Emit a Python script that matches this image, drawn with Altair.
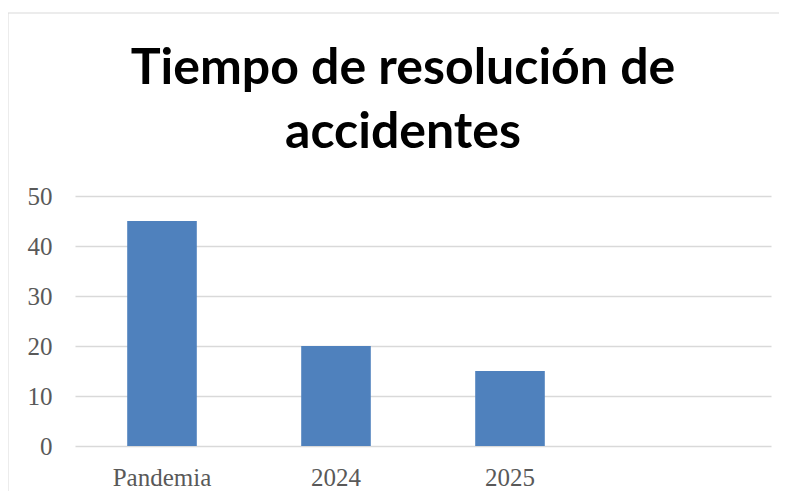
import altair as alt
import pandas as pd

# Data
categories = ["Pandemia", "2024", "2025"]
values = [45, 20, 15]
x_domain = ["Pandemia", "2024", "2025", ""]
y_ticks = [0, 10, 20, 30, 40, 50]
title_lines = ["Tiempo de resolución de", "accidentes"]

df = pd.DataFrame({"categoria": categories, "valor": values})

PLOT_W = 696
PLOT_H = 250
PAD_L, PAD_T, PAD_R, PAD_B = 67, 188, 8, 45
FRAME_LEFT = -67
FRAME_TOP = -183

bars = alt.Chart(df).mark_bar(color="#4f81bd").encode(
    x=alt.X(
        "categoria:N",
        scale=alt.Scale(domain=x_domain, paddingInner=0.6, paddingOuter=0.3),
        axis=alt.Axis(
            title=None, labelAngle=0, ticks=False, domain=False, grid=False,
            labelFont="Liberation Serif", labelFontSize=25, labelColor="#595959",
            labelPadding=39, labelBaseline="alphabetic",
        ),
    ),
    y=alt.Y(
        "valor:Q",
        scale=alt.Scale(domain=[0, 50], nice=False),
        axis=alt.Axis(
            values=y_ticks, title=None, ticks=False, domain=False, grid=True,
            gridColor="#d9d9d9", gridWidth=1.5,
            labelFont="Liberation Serif", labelFontSize=25, labelColor="#595959",
            labelPadding=23,
        ),
    ),
)

frame_src = alt.Data(values=[{}])
frame_top = alt.Chart(frame_src).mark_rule(color="#d9d9d9", strokeWidth=1).encode(
    x=alt.value(FRAME_LEFT), x2=alt.value(PLOT_W + PAD_R), y=alt.value(FRAME_TOP)
)
frame_left = alt.Chart(frame_src).mark_rule(color="#d9d9d9", strokeWidth=1).encode(
    x=alt.value(FRAME_LEFT), y=alt.value(FRAME_TOP), y2=alt.value(PLOT_H + PAD_B)
)

chart = (
    alt.layer(frame_top, frame_left, bars)
    .properties(
        width=PLOT_W,
        height=PLOT_H,
        padding={"left": PAD_L, "top": PAD_T, "right": PAD_R, "bottom": PAD_B},
        autosize=alt.AutoSizeParams(type="none"),
        title=alt.TitleParams(
            text=title_lines, font="Lato", fontWeight="bold", fontSize=50,
            lineHeight=64, color="#000000", anchor="middle", frame="group",
            baseline="alphabetic", dx=-20, dy=185, offset=0,
        ),
    )
    .configure(background="white")
    .configure_view(stroke=None, strokeWidth=0)
)

chart.save("out.html", embed_options={"renderer": "svg", "actions": False})
